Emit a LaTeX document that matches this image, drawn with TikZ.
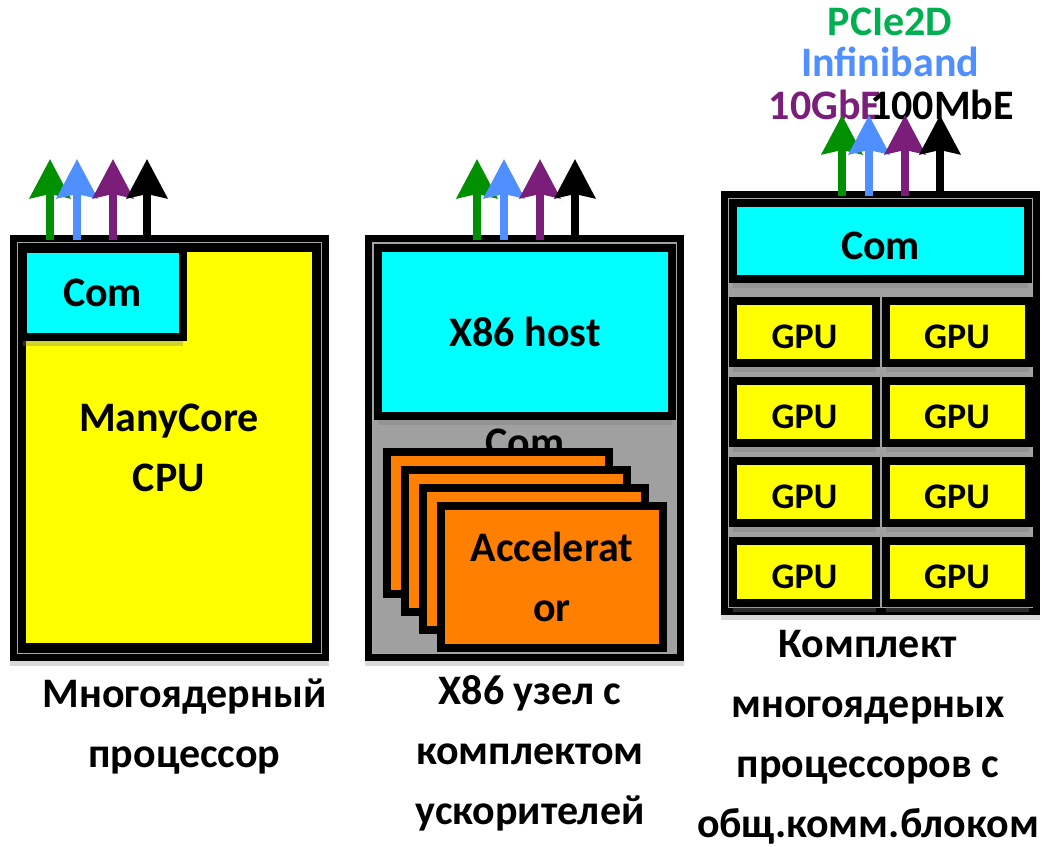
\documentclass[tikz,border=0pt]{standalone}
\usepackage{fontspec}
\setmainfont{Carlito}
\usetikzlibrary{arrows.meta,shadows}
\definecolor{lgreen}{HTML}{009000}
\definecolor{lblue}{HTML}{4F8FFF}
\definecolor{lpurple}{HTML}{7A1E7A}
\definecolor{pcie}{HTML}{00B050}
\definecolor{midgray}{HTML}{A0A0A0}
\definecolor{accorange}{HTML}{FF8000}
\definecolor{comcyan}{HTML}{00FFFF}
\definecolor{cpuyellow}{HTML}{FFFF00}
\tikzset{
  big/.style={font=\bfseries\fontsize{42}{60}\selectfont},
  shell/.style={fill=black,inner sep=0pt,minimum width=319pt,
    drop shadow={shadow xshift=0pt,shadow yshift=-5pt,opacity=.3}},
  rim/.style={draw=gray!70,line width=.8pt},
  box/.style={draw=black,line width=8pt,fill=#1,inner sep=0pt,align=center,big,
    drop shadow={shadow xshift=0pt,shadow yshift=-9pt,opacity=.35}},
  core/.style={fill=cpuyellow,inner sep=0pt,align=center,big},
  card/.style={draw=black,line width=8pt,fill=accorange,inner sep=0pt,
    minimum width=222pt,minimum height=142pt,align=center,big},
  gpu/.style={box=cpuyellow,minimum width=143pt,minimum height=62pt,
    font=\bfseries\fontsize{36}{40}\selectfont,text height=33pt,text depth=0pt},
  link/.style={draw=#1,line width=8pt,-{Stealth[length=39pt,width=40pt,inset=4pt]}},
  tag/.style={inner sep=0pt,big},
  caption/.style={align=center,big},
}
\begin{document}
\begin{tikzpicture}[x=1pt,y=-1pt]
  \useasboundingbox (0,0) rectangle (1046,846);

  % manycore processor
  \node[shell,minimum height=426pt] (many) at (169.5,448) {};
  \draw[rim] ([shift={(7.5,7.5)}]many.north west) rectangle ([shift={(-7.5,-7.5)}]many.south east);
  \node[core,minimum width=286pt,minimum height=391pt] (cpu) at (169,447.5) {ManyCore\\CPU};
  \node[box=comcyan,minimum width=160pt,minimum height=88pt] (com1) at (102.5,292.5) {Com};
  \foreach \col/\dx [count=\i] in {lgreen/0,lblue/27,lpurple/63,black/97}{
    \coordinate (s1\i) at (50+\dx,240);
    \coordinate (t1\i) at (50+\dx,159);
    \draw[link=\col] (s1\i) -- (t1\i);
  }

  % x86 node with accelerators
  \node[shell,minimum height=426pt] (node86) at (524.5,448) {};
  \draw[rim,fill=midgray] ([shift={(7.5,7.5)}]node86.north west) rectangle ([shift={(-7.5,-7.5)}]node86.south east);
  \node[box=comcyan,minimum width=294pt,minimum height=168pt] (host) at (525,332) {X86 host};
  \node[tag] (com2) at (525,443) {Com};
  \foreach \k in {0,1,2}
    \node[card] (acc\k) at (498+18*\k,523+18*\k) {};
  \node[card] (acc3) at (552,577) {Accelerat\\or};
  \foreach \col/\dx [count=\i] in {lgreen/0,lblue/27,lpurple/63,black/98}{
    \coordinate (s2\i) at (477+\dx,240);
    \coordinate (t2\i) at (477+\dx,159);
    \draw[link=\col] (s2\i) -- (t2\i);
  }

  % kit of manycore processors
  \node[shell,minimum height=424pt] (kit) at (880.5,403) {};
  \draw[rim,fill=midgray] ([shift={(7.5,7.5)}]kit.north west) rectangle ([shift={(-7.5,-7.5)}]kit.south east);
  \node[box=comcyan,minimum width=295pt,minimum height=76pt,text height=36pt,text depth=0pt] (com3) at (880.5,241) {Com};
  \foreach \r in {0,...,3}
    \foreach \c/\x in {l/804.5,r/957}
      \node[gpu] (gpu\c\r) at (\x,332+80*\r) {GPU};

  \node[tag,text=pcie] (pcie) at (890,22) {PCIe2D};
  \node[tag,text=lblue] (ib) at (890,62) {Infiniband};
  \node[tag,text=lpurple] (gbe) at (825,105) {10GbE};
  \node[tag] (mbe) at (942,105) {100MbE};
  \foreach \col/\dx [count=\i] in {lgreen/0,lblue/27,lpurple/63,black/98}{
    \coordinate (s3\i) at (842+\dx,196);
    \coordinate (t3\i) at (842+\dx,115);
    \draw[link=\col] (s3\i) -- (t3\i);
  }

  % captions
  \node[caption] (cap1) at (184.5,727) {Многоядерный\\процессор};
  \node[caption] (cap2) at (530,753) {X86 узел с\\комплектом\\ускорителей};
  \node[caption] (cap3) at (868,737) {Комплект\\многоядерных\\процессоров с\\общ.комм.блоком};
\end{tikzpicture}
\end{document}
